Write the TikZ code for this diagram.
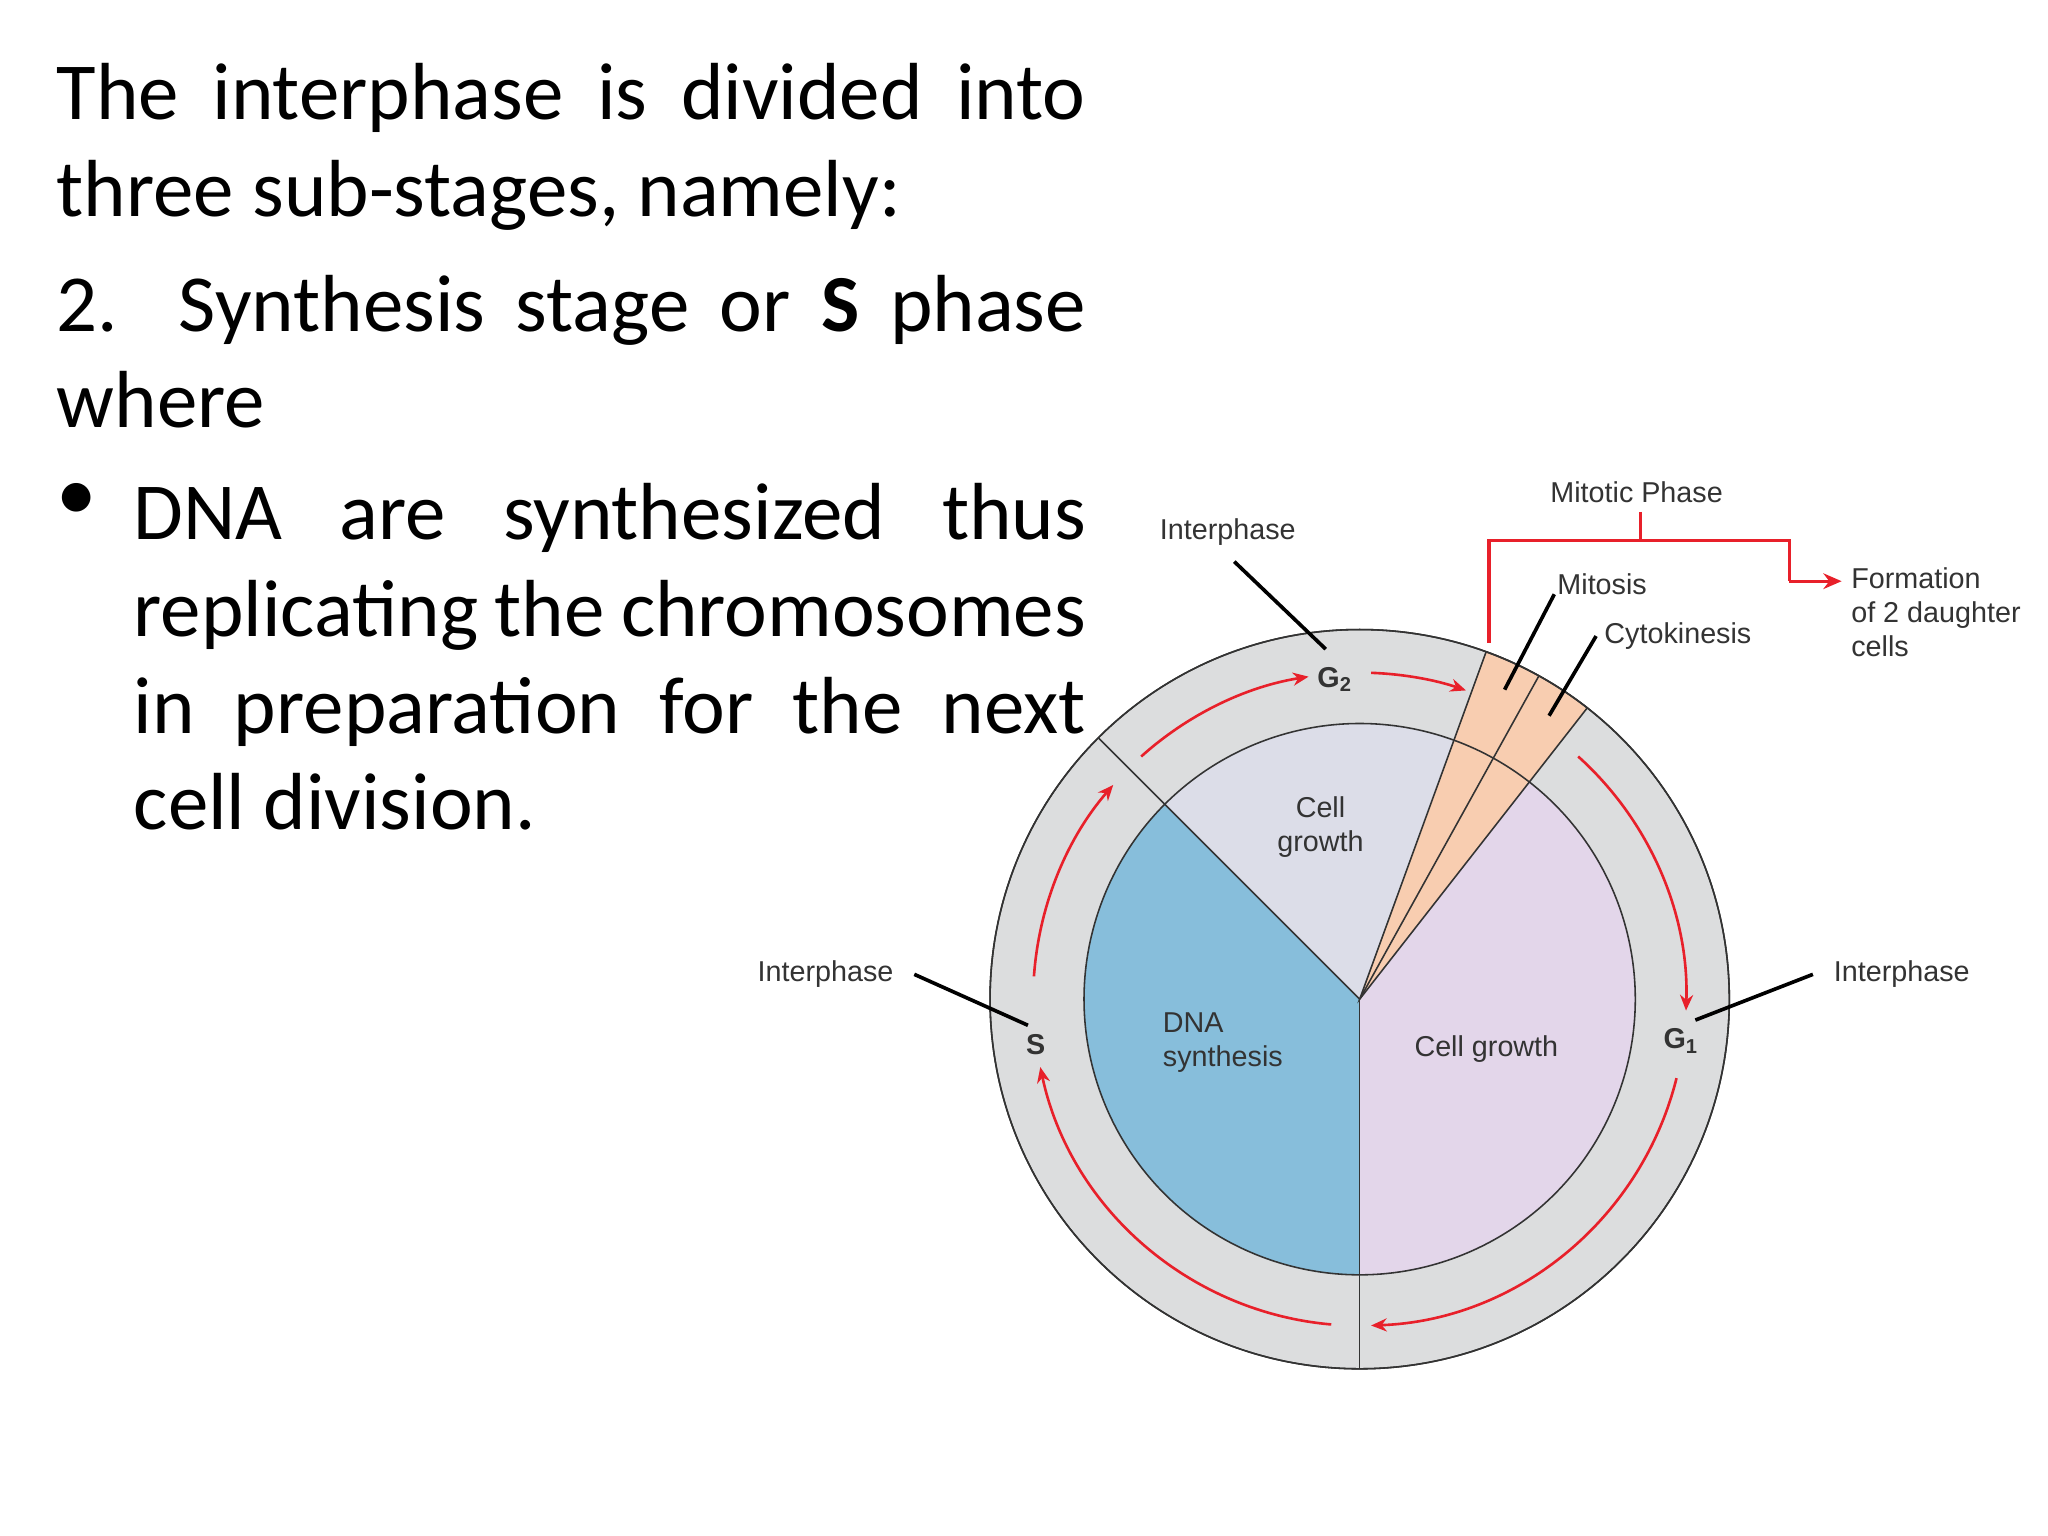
\documentclass[tikz,border=0pt]{standalone}
\usepackage{fontspec}
\setmainfont{Carlito}
\newfontfamily\arialf{Liberation Sans}
\usetikzlibrary{arrows.meta}
\definecolor{ringg}{HTML}{DCDDDE}
\definecolor{dnab}{HTML}{87BEDB}
\definecolor{gtwo}{HTML}{DCDDE8}
\definecolor{gone}{HTML}{E3D6EA}
\definecolor{mito}{HTML}{F8CDB0}
\definecolor{redar}{HTML}{E8202A}
\definecolor{lab}{HTML}{333333}
\begin{document}
\begin{tikzpicture}[x=0.5pt,y=0.5pt,
  lbl/.style={font=\arialf\fontsize{11}{13}\selectfont,text=lab,inner sep=0pt},
  ptr/.style={line width=1.4pt},
  redarc/.style={redar,line width=1pt,-{Stealth[length=6pt,width=5pt]}},
  body/.style={font=\fontsize{31}{37}\selectfont,inner sep=0pt,anchor=north west,align=justify}]
\useasboundingbox (0,0) rectangle (1568,1176);
\fill[white] (0,0) rectangle (1568,1176);
\coordinate (c) at (1041,411);
% text
\node[body,text width=394pt] (t1) at (43,1128) {The interphase is divided into\linebreak three sub-stages, namely:};
\node[body,text width=394pt] (t2) at (43,966) {2. Synthesis stage or \textbf{S} phase\linebreak where};
\node[body,anchor=north west] (bul) at (43,806) {•};
\node[body,text width=364.5pt] (t3) at (102,806) {DNA are synthesized thus\linebreak replicating the chromosomes\linebreak in preparation for the next\linebreak cell division.};
% circle
\fill[ringg,draw=lab,line width=0.6pt] (c) circle[radius=283];
\fill[dnab] (c) -- ++(135:211) arc[start angle=135,end angle=270,radius=211] -- cycle;
\fill[gtwo] (c) -- ++(70:211) arc[start angle=70,end angle=135,radius=211] -- cycle;
\fill[gone] (c) -- ++(-90:211) arc[start angle=-90,end angle=52,radius=211] -- cycle;
\fill[mito,draw=lab,line width=0.6pt] (c) -- ++(52:283) arc[start angle=52,end angle=70,radius=283] -- cycle;
\draw[lab,line width=0.6pt] (c) -- ++(61:283);
\draw[lab,line width=0.6pt] (c) circle[radius=283];
\draw[lab,line width=0.6pt] (c) ++(70:211) arc[start angle=70,end angle=412,radius=211];
\draw[lab,line width=0.6pt] (c) ++(52:211) arc[start angle=52,end angle=70,radius=211];
\draw[lab,line width=0.6pt] (c) -- ++(135:283);
\draw[lab,line width=0.6pt] (c) -- ++(-90:283);
% red arrows
\draw[redarc] (c) ++(48:250) arc[start angle=48,end angle=-2,radius=250];
\draw[redarc] (c) ++(-14:250) arc[start angle=-14,end angle=-88,radius=250];
\draw[redarc] (c) ++(-95:250) arc[start angle=-95,end angle=-168,radius=250];
\draw[redarc] (c) ++(176:250) arc[start angle=176,end angle=139,radius=250];
\draw[redarc] (c) ++(132:250) arc[start angle=132,end angle=99,radius=250];
\draw[redarc] (c) ++(88:250) arc[start angle=88,end angle=71,radius=250];
% phase letters
\node[lbl,font=\arialf\bfseries\fontsize{11}{13}\selectfont] (g2) at (1022,656) {G\textsubscript{2}};
\node[lbl,font=\arialf\bfseries\fontsize{11}{13}\selectfont] (s) at (793,376) {S};
\node[lbl,font=\arialf\bfseries\fontsize{11}{13}\selectfont] (g1) at (1287,379) {G\textsubscript{1}};
% inner labels
\node[lbl,align=center] (cg2) at (1011,543) {Cell\\growth};
\node[lbl,align=left,anchor=west] (dna) at (890,378) {DNA\\synthesis};
\node[lbl] (cg1) at (1138,373) {Cell growth};
% interphase labels
\node[lbl] (ip1) at (940,769) {Interphase};
\draw[ptr] (945,746) -- (1015,679);
\node[lbl] (ip2) at (632,430) {Interphase};
\draw[ptr] (700,430) -- (787,391);
\node[lbl] (ip3) at (1456,430) {Interphase};
\draw[ptr] (1388,430) -- (1298,395);
% mitotic bracket
\node[lbl] (mp) at (1253,799) {Mitotic Phase};
\draw[redar,line width=1.2pt] (1256,784) -- (1256,762);
\draw[redar,line width=1.2pt] (1140,684) -- (1140,762) -- (1370,762) -- (1370,731);
\draw[redar,line width=1.2pt,-{Stealth[length=7pt,width=6pt]}] (1370,731) -- (1410,731);
\node[lbl,align=left,anchor=north west] (form) at (1417,742) {Formation\\of 2 daughter\\cells};
\node[lbl,anchor=west] (mit) at (1192,729) {Mitosis};
\draw[ptr] (1190,721) -- (1152,648);
\node[lbl,anchor=west] (cyt) at (1228,689) {Cytokinesis};
\draw[ptr] (1222,689) -- (1186,628);
\end{tikzpicture}
\end{document}
